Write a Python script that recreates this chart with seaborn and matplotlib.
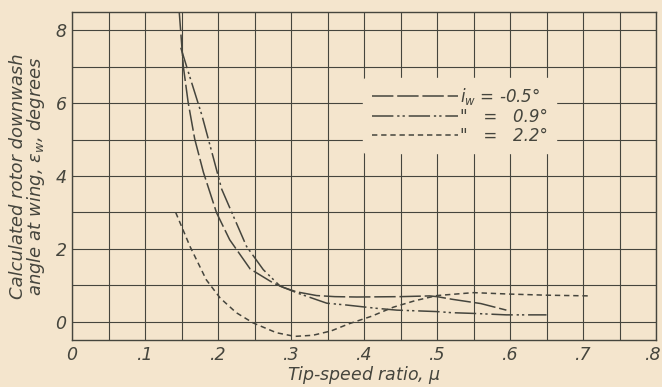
import numpy as np
import matplotlib
matplotlib.use("Agg")
import matplotlib.pyplot as plt
import matplotlib.transforms as mtransforms
import seaborn as sns

# Curve data (tip-speed ratio vs downwash angle)
mu_a = [0.1466, 0.1525, 0.159, 0.168, 0.180, 0.198, 0.216, 0.244, 0.276, 0.290,
        0.308, 0.335, 0.36, 0.39, 0.45, 0.49, 0.50, 0.52, 0.54, 0.56, 0.595]
eps_a = [8.57, 7.0, 6.03, 5.02, 4.10, 2.99, 2.25, 1.45, 1.06, 0.94,
         0.82, 0.72, 0.69, 0.68, 0.69, 0.71, 0.69, 0.62, 0.56, 0.50, 0.32]

mu_b = [0.149, 0.162, 0.178, 0.194, 0.205, 0.221, 0.239, 0.262, 0.285, 0.31,
        0.349, 0.376, 0.417, 0.445, 0.50, 0.52, 0.55, 0.595, 0.65]
eps_b = [7.52, 6.68, 5.66, 4.47, 3.64, 2.9, 2.07, 1.43, 0.98, 0.78,
         0.51, 0.46, 0.37, 0.32, 0.28, 0.25, 0.23, 0.19, 0.19]

mu_c = [0.142, 0.162, 0.184, 0.203, 0.225, 0.248, 0.28, 0.305, 0.33, 0.355,
        0.38, 0.41, 0.44, 0.47, 0.50, 0.55, 0.60, 0.65, 0.71]
eps_c = [3.0, 2.05, 1.15, 0.65, 0.25, -0.03, -0.3, -0.4, -0.37, -0.25,
         -0.05, 0.15, 0.40, 0.58, 0.72, 0.80, 0.76, 0.73, 0.71]

labels = [r"$i_w$ = -0.5°", '"   =   0.9°', '"   =   2.2°']
x_ticks = [0, 0.1, 0.2, 0.3, 0.4, 0.5, 0.6, 0.7, 0.8]
x_tick_labels = ["0", ".1", ".2", ".3", ".4", ".5", ".6", ".7", ".8"]
y_ticks = [0, 2, 4, 6, 8]

bg = "#f4e5cd"
ink = "#45453d"

sns.set_style("white", {"axes.facecolor": bg, "figure.facecolor": bg})
plt.rcParams["font.family"] = ["DejaVu Sans"]
plt.rcParams["font.style"] = "italic"
plt.rcParams["mathtext.fontset"] = "dejavusans"
plt.rcParams["mathtext.default"] = "it"

fig = plt.figure(figsize=(6.62, 3.87), dpi=100)
ax = fig.add_axes([0.1088, 0.1214, 0.8822, 0.8476])

sns.lineplot(x=mu_a, y=eps_a, ax=ax, color=ink, lw=1.1, label=labels[0],
             linestyle=(0, (14, 2.5)), estimator=None, sort=False)
sns.lineplot(x=mu_b, y=eps_b, ax=ax, color=ink, lw=1.1, label=labels[1],
             linestyle=(0, (14, 2.5, 1.5, 2, 1.5, 2.5)), estimator=None, sort=False)
sns.lineplot(x=mu_c, y=eps_c, ax=ax, color=ink, lw=1.1, label=labels[2],
             linestyle=(0, (3.5, 2.5)), estimator=None, sort=False)

ax.set_xlim(0, 0.8)
ax.set_ylim(-0.5, 8.5)
ax.set_xticks(x_ticks)
ax.set_xticklabels(x_tick_labels)
ax.set_yticks(y_ticks)
ax.set_xticks(np.arange(0, 0.81, 0.05), minor=True)
ax.set_yticks(np.arange(0, 9, 1), minor=True)
ax.grid(which="both", color=ink, lw=0.8)
ax.set_axisbelow(True)
ax.tick_params(which="both", length=0, labelsize=12.5, colors=ink)
ax.tick_params(axis="x", pad=4)
ax.tick_params(axis="y", pad=4)
for s in ax.spines.values():
    s.set_color(ink)
    s.set_linewidth(1.0)

# keep the ".8" label inside the figure edge
last = ax.get_xticklabels()[-1]
last.set_horizontalalignment("right")
last.set_transform(last.get_transform() +
                   mtransforms.ScaledTranslation(5 / 100, 0, fig.dpi_scale_trans))

ax.set_xlabel(r"Tip-speed ratio, $\mu$", fontsize=12.5, color=ink, labelpad=0)
ax.set_ylabel("Calculated rotor downwash\nangle at wing, $\\epsilon_w$, degrees",
              fontsize=13, color=ink, labelpad=6, linespacing=0.9)

leg = ax.legend(loc="center", bbox_to_anchor=(0.664, 0.684), frameon=True,
                fontsize=12, handlelength=5.2, handletextpad=0.1, labelspacing=0.05,
                borderpad=0.5, borderaxespad=0)
leg.get_frame().set_facecolor(bg)
leg.get_frame().set_edgecolor(bg)
leg.get_frame().set_alpha(1)
for t in leg.get_texts():
    t.set_color(ink)

fig.savefig("out.png", dpi=100, facecolor=bg)
